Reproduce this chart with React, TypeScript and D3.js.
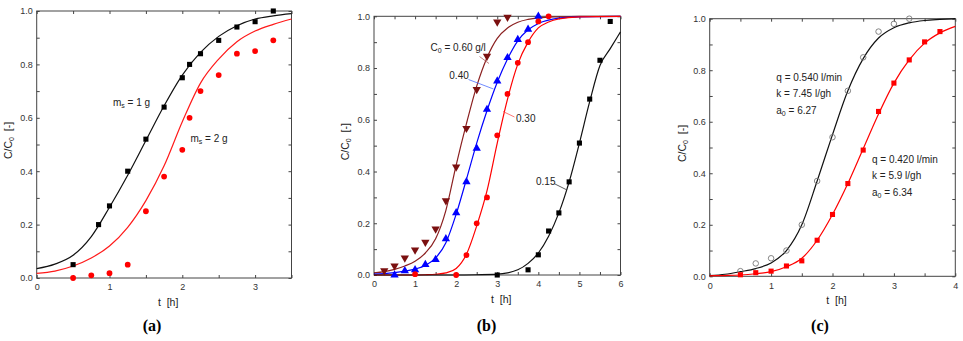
import { useEffect, useRef } from "react";
import * as d3 from "d3";

// ---- panel (a): m_s = 1 g / 2 g ----
const aObs1T = [0.5, 0.85, 1.0, 1.25, 1.5, 1.75, 2.0, 2.1, 2.25, 2.5, 2.75, 3.0, 3.25];
const aObs1V = [0.05, 0.2, 0.27, 0.4, 0.52, 0.64, 0.75, 0.8, 0.84, 0.89, 0.94, 0.96, 1.0];
const aObs2T = [0.5, 0.75, 1.0, 1.25, 1.5, 1.75, 2.0, 2.1, 2.25, 2.5, 2.75, 3.0, 3.25];
const aObs2V = [0.0, 0.01, 0.018, 0.05, 0.25, 0.38, 0.48, 0.6, 0.7, 0.76, 0.84, 0.85, 0.89];
const aFitT = [0, 0.25, 0.5, 0.75, 1.0, 1.25, 1.5, 1.75, 2.0, 2.25, 2.5, 2.75, 3.0, 3.25, 3.5];
const aFit1V = [0.035, 0.052, 0.085, 0.155, 0.265, 0.385, 0.515, 0.645, 0.76, 0.845, 0.905, 0.945, 0.97, 0.982, 0.99];
const aFit2V = [0.017, 0.026, 0.045, 0.075, 0.12, 0.19, 0.29, 0.42, 0.585, 0.73, 0.82, 0.885, 0.925, 0.95, 0.97];

// ---- panel (b): C0 = 0.60 / 0.40 / 0.30 / 0.15 g/l ----
const bObs60T = [0.25, 0.5, 0.75, 1.0, 1.25, 1.5, 1.75, 2.0, 2.25, 2.5, 2.75, 3.0, 3.25];
const bObs60V = [0.017, 0.035, 0.066, 0.097, 0.127, 0.178, 0.287, 0.418, 0.567, 0.717, 0.846, 0.978, 0.997];
const bObs40T = [0.5, 0.75, 1.0, 1.25, 1.5, 1.75, 2.0, 2.25, 2.5, 2.75, 3.0, 3.25, 3.5, 3.75, 4.0];
const bObs40V = [0.0, 0.016, 0.02, 0.04, 0.06, 0.14, 0.24, 0.36, 0.49, 0.64, 0.75, 0.84, 0.91, 0.95, 1.0];
const bObs30T = [1.0, 2.0, 2.25, 2.5, 2.75, 3.0, 3.25, 3.5, 3.75, 4.0, 4.25];
const bObs30V = [0.003, 0.0, 0.077, 0.2, 0.3, 0.54, 0.7, 0.82, 0.9, 0.98, 1.0];
const bObs15T = [3.0, 3.75, 4.0, 4.25, 4.5, 4.75, 5.0, 5.25, 5.5, 5.75];
const bObs15V = [0.0, 0.02, 0.078, 0.17, 0.24, 0.36, 0.51, 0.68, 0.83, 0.98];
const bFitT = [0, 0.25, 0.5, 0.75, 1.0, 1.25, 1.5, 1.75, 2.0, 2.25, 2.5, 2.75, 3.0, 3.25, 3.5, 3.75, 4.0, 4.5, 5.0, 6.0];
const bFit60V = [0.008, 0.013, 0.022, 0.035, 0.053, 0.085, 0.14, 0.25, 0.425, 0.585, 0.73, 0.84, 0.915, 0.955, 0.977, 0.988, 0.994, 0.998, 1.0, 1.0];
const bFit40V = [0.003, 0.005, 0.009, 0.015, 0.023, 0.037, 0.066, 0.125, 0.235, 0.37, 0.51, 0.635, 0.745, 0.835, 0.905, 0.948, 0.972, 0.993, 0.998, 1.0];
const bFit30T = [0, 0.5, 1.0, 1.25, 1.5, 1.75, 2.0, 2.25, 2.5, 2.75, 3.0, 3.25, 3.5, 3.75, 4.0, 4.25, 4.5, 5.0, 6.0];
const bFit30V = [0, 0, 0, 0.001, 0.003, 0.008, 0.025, 0.08, 0.19, 0.325, 0.51, 0.68, 0.815, 0.9, 0.955, 0.978, 0.99, 0.998, 1.0];
const bFit15T = [0, 1.0, 2.0, 2.5, 3.0, 3.25, 3.5, 3.75, 4.0, 4.25, 4.5, 4.75, 5.0, 5.25, 5.5, 5.75, 6.0];
const bFit15V = [0, 0, 0, 0.001, 0.003, 0.008, 0.02, 0.045, 0.085, 0.15, 0.24, 0.36, 0.51, 0.67, 0.81, 0.875, 0.94];

// ---- panel (c): q = 0.540 / 0.420 l/min ----
const cObs54T = [0.5, 0.75, 1.0, 1.25, 1.5, 1.75, 2.0, 2.25, 2.5, 2.75, 3.0, 3.25];
const cObs54V = [0.02, 0.05, 0.07, 0.1, 0.2, 0.37, 0.54, 0.72, 0.85, 0.95, 0.98, 1.0];
const cObs42T = [0.5, 0.75, 1.0, 1.25, 1.5, 1.75, 2.0, 2.25, 2.5, 2.75, 3.0, 3.25, 3.5, 3.75];
const cObs42V = [0.006, 0.014, 0.02, 0.04, 0.06, 0.14, 0.24, 0.36, 0.49, 0.64, 0.75, 0.84, 0.91, 0.95];
const cFitT = [0, 0.25, 0.5, 0.75, 1.0, 1.25, 1.5, 1.75, 2.0, 2.25, 2.5, 2.75, 3.0, 3.25, 3.5, 3.75, 4.0];
const cFit54V = [0.003, 0.008, 0.018, 0.03, 0.052, 0.1, 0.2, 0.37, 0.55, 0.72, 0.845, 0.925, 0.965, 0.984, 0.993, 0.997, 1.0];
const cFit42V = [0.002, 0.003, 0.005, 0.01, 0.018, 0.037, 0.07, 0.14, 0.24, 0.36, 0.495, 0.63, 0.75, 0.84, 0.905, 0.945, 0.97];

const yTicks = d3.range(0, 11).map((d) => d / 10);

const BROWN = "#7b1010";
const FONT = "'Liberation Sans', Arial, sans-serif";
const SERIF = "'Liberation Serif', 'DejaVu Serif', 'Times New Roman', serif";

const App = () => {
  const svgRef = useRef(null);

  useEffect(() => {
    const svg = d3.select(svgRef.current);
    svg.selectAll("*").remove();

    const panels = [
      {
        box: [36.7, 291.5, 11, 278], xmax: 3.5, ylabX: 12, tag: "(a)", tagX: 152,
        fits: [
          { t: aFitT, v: aFit1V, color: "#111" },
          { t: aFitT, v: aFit2V, color: "#ff1a1a" },
        ],
        obs: [
          { t: aObs1T, v: aObs1V, color: "#000", sym: "square" },
          { t: aObs2T, v: aObs2V, color: "#ff0000", sym: "circle" },
        ],
      },
      {
        box: [374, 620.5, 16.3, 275], xmax: 6, ylabX: 349, tag: "(b)", tagX: 486.5,
        fits: [
          { t: bFitT, v: bFit60V, color: "#8b2020" },
          { t: bFitT, v: bFit40V, color: "#0000ff" },
          { t: bFit30T, v: bFit30V, color: "#ff0000" },
          { t: bFit15T, v: bFit15V, color: "#111" },
        ],
        obs: [
          { t: bObs60T, v: bObs60V, color: BROWN, sym: "down" },
          { t: bObs40T, v: bObs40V, color: "#0000ff", sym: "up" },
          { t: bObs30T, v: bObs30V, color: "#ff0000", sym: "circle" },
          { t: bObs15T, v: bObs15V, color: "#000", sym: "square" },
        ],
      },
      {
        box: [709.7, 955.3, 18.7, 276.3], xmax: 4, ylabX: 686, tag: "(c)", tagX: 820,
        fits: [
          { t: cFitT, v: cFit54V, color: "#111" },
          { t: cFitT, v: cFit42V, color: "#ff0000" },
        ],
        obs: [
          { t: cObs54T, v: cObs54V, color: "#777", sym: "open" },
          { t: cObs42T, v: cObs42V, color: "#ff0000", sym: "square" },
        ],
      },
    ];

    panels.forEach((p) => {
      const [l, r, t, b] = p.box;
      const x = d3.scaleLinear().domain([0, p.xmax]).range([l, r]);
      const y = d3.scaleLinear().domain([0, 1]).range([b, t]);
      const g = svg.append("g");
      const xTicks = d3.range(0, p.xmax * 2 + 1).map((d) => d / 2);

      // axes, ticks pointing inward
      const bottom = g.append("g").attr("transform", `translate(0,${b})`)
        .call(d3.axisBottom(x).tickValues(xTicks).tickSize(-3).tickPadding(6)
          .tickFormat((d) => (Number.isInteger(d) ? `${d}` : "")));
      const top = g.append("g").attr("transform", `translate(0,${t})`)
        .call(d3.axisTop(x).tickValues(xTicks).tickSize(-3).tickFormat(() => ""));
      const left = g.append("g").attr("transform", `translate(${l},0)`)
        .call(d3.axisLeft(y).tickValues(yTicks).tickSize(-3).tickPadding(4)
          .tickFormat((d) => (Math.round(d * 10) % 2 === 0 ? d3.format(".1f")(d) : "")));
      const right = g.append("g").attr("transform", `translate(${r},0)`)
        .call(d3.axisRight(y).tickValues(yTicks).tickSize(-3).tickFormat(() => ""));
      [bottom, top, left, right].forEach((a) => {
        a.select(".domain").remove();
        a.selectAll("line").attr("stroke", "#444");
        a.selectAll("text").attr("font-family", FONT).attr("font-size", 9).attr("fill", "#333");
      });
      g.append("rect").attr("x", l).attr("y", t).attr("width", r - l).attr("height", b - t)
        .attr("fill", "none").attr("stroke", "#444").attr("stroke-width", 1);

      // fitted curves
      const line = d3.line().curve(d3.curveMonotoneX).x((d) => x(d[0])).y((d) => y(d[1]));
      p.fits.forEach((f) => {
        g.append("path").datum(f.t.map((tt, i) => [tt, f.v[i]]))
          .attr("fill", "none").attr("stroke", f.color).attr("stroke-width", 1.2)
          .attr("d", line);
      });

      // measured points
      p.obs.forEach((o) => {
        const pts = o.t.map((tt, i) => [tt, o.v[i]]);
        const sel = g.append("g").selectAll("path").data(pts).enter().append("path")
          .attr("transform", (d) => `translate(${x(d[0])},${y(d[1])})${o.sym === "down" ? " rotate(180)" : ""}`);
        if (o.sym === "square") sel.attr("d", d3.symbol(d3.symbolSquare, 26)()).attr("fill", o.color);
        if (o.sym === "circle") sel.attr("d", d3.symbol(d3.symbolCircle, 26)()).attr("fill", o.color);
        if (o.sym === "up" || o.sym === "down") sel.attr("d", d3.symbol(d3.symbolTriangle, 30)()).attr("fill", o.color);
        if (o.sym === "open") sel.attr("d", d3.symbol(d3.symbolCircle, 24)()).attr("fill", "none")
          .attr("stroke", o.color).attr("stroke-width", 0.9);
      });

      // axis titles
      const xl = g.append("text").attr("x", (l + r) / 2 + 4).attr("y", b + 28)
        .attr("text-anchor", "middle").attr("font-family", FONT).attr("font-size", 10.5).attr("fill", "#222");
      xl.text("t\u00a0\u00a0[h]");
      const yl = g.append("text").attr("transform", `translate(${p.ylabX},${(t + b) / 2 - 4}) rotate(-90)`)
        .attr("text-anchor", "middle").attr("font-family", FONT).attr("font-size", 10.5).attr("fill", "#222");
      yl.append("tspan").text("C/C");
      yl.append("tspan").attr("font-size", 7).attr("dy", 2).text("0");
      yl.append("tspan").attr("dy", -2).text("\u00a0\u00a0[-]");

      g.append("text").attr("x", p.tagX).attr("y", 331).attr("text-anchor", "middle")
        .style("font-family", SERIF)
        .attr("font-weight", "bold").attr("font-size", 16).attr("fill", "#000").text(p.tag);
    });

    // annotations
    const note = (px, py, main, sub?, rest?) => {
      const tx = svg.append("text").attr("x", px).attr("y", py)
        .attr("font-family", FONT).attr("font-size", 10).attr("fill", "#222");
      tx.append("tspan").text(main);
      if (sub) {
        tx.append("tspan").attr("font-size", 7).attr("dy", 2).text(sub);
        tx.append("tspan").attr("dy", -2).text(rest);
      }
    };
    note(113, 106, "m", "s", " = 1 g");
    note(190.5, 142, "m", "s", " = 2 g");
    note(430.5, 50.5, "C", "0", " = 0.60 g/l");
    note(449.3, 79, "0.40");
    note(516, 122, "0.30");
    note(536, 184.5, "0.15");
    note(776.3, 80.5, "q = 0.540 l/min");
    note(776.3, 97, "k = 7.45 l/gh");
    note(776.3, 113.5, "a", "0", " = 6.27");
    note(872, 162.5, "q = 0.420 l/min");
    note(872, 179, "k = 5.9 l/gh");
    note(872, 195.5, "a", "0", " = 6.34");

    // leader lines in (b)
    const leaders = [
      [479.5, 56.5, 489, 63.5, "#b06060"],
      [468.5, 79.5, 493.5, 89, "#4d6dff"],
      [514.5, 117, 503, 111.5, "#ff5050"],
      [554, 183.5, 567, 190, "#333"],
    ];
    leaders.forEach(([x1, y1, x2, y2, c]) => {
      svg.append("line").attr("x1", x1).attr("y1", y1).attr("x2", x2).attr("y2", y2)
        .attr("stroke", c).attr("stroke-width", 0.8);
    });
  }, []);

  return (
    <svg ref={svgRef} width={963} height={341}
      style={{ position: "absolute", left: 0, top: 0, background: "#fff" }}></svg>
  );
};

export default App;
